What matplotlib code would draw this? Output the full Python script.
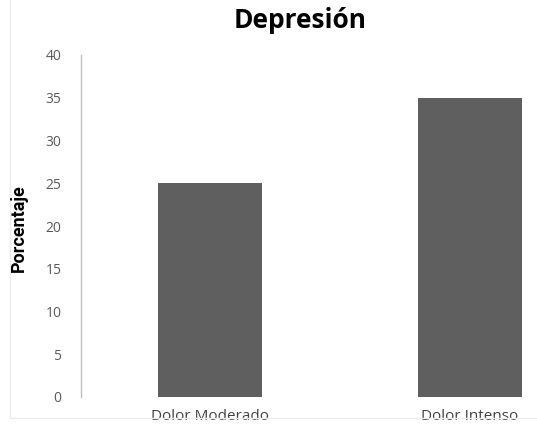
import matplotlib
matplotlib.use("Agg")
import matplotlib.pyplot as plt
from matplotlib.patches import Rectangle

categories = ["Dolor Moderado", "Dolor Intenso"]
values = [25, 35]
yticks = [0, 5, 10, 15, 20, 25, 30, 35, 40]

W, H = 537, 426
fig = plt.figure(figsize=(W / 100, H / 100), dpi=100)
fig.patch.set_facecolor("white")

# faint chart-area frame
fig.patches.append(Rectangle((10 / W, 8 / H), 1.2, 1.2, transform=fig.transFigure,
                             fill=False, edgecolor="#ececec", linewidth=1.0))

ax = fig.add_axes([81 / W, (H - 397) / H, (W - 81) / W, (397 - 55) / H])
x = list(range(len(categories)))
ax.bar(x, values, width=0.4, color="#5f5f5f", zorder=2)

ax.set_xlim(-0.496, 1.258)
ax.set_ylim(0, 40)
ax.set_yticks(yticks)
ax.set_yticklabels([str(t) for t in yticks], fontsize=10, color="#595959",
                   family="Open Sans")
ax.set_xticks(x)
ax.set_xticklabels(categories, fontsize=11, color="#404040", family="Open Sans")
ax.tick_params(axis="both", length=0)
ax.tick_params(axis="y", pad=14)
ax.tick_params(axis="x", pad=9)

for side in ["top", "right", "bottom"]:
    ax.spines[side].set_visible(False)
ax.spines["left"].set_color("#bfbfbf")
ax.spines["left"].set_linewidth(1.0)

fig.text(19 / W, 1 - 228 / H, "Porcentaje", rotation=90, ha="center", va="center",
         fontsize=13, fontweight="bold", family=["Roboto", "DejaVu Sans"])

fig.text(300 / W, 1 - 21 / H, "Depresión", ha="center", va="center",
         fontsize=19, fontweight="bold", family="Open Sans")

fig.savefig("out.png", dpi=100)
